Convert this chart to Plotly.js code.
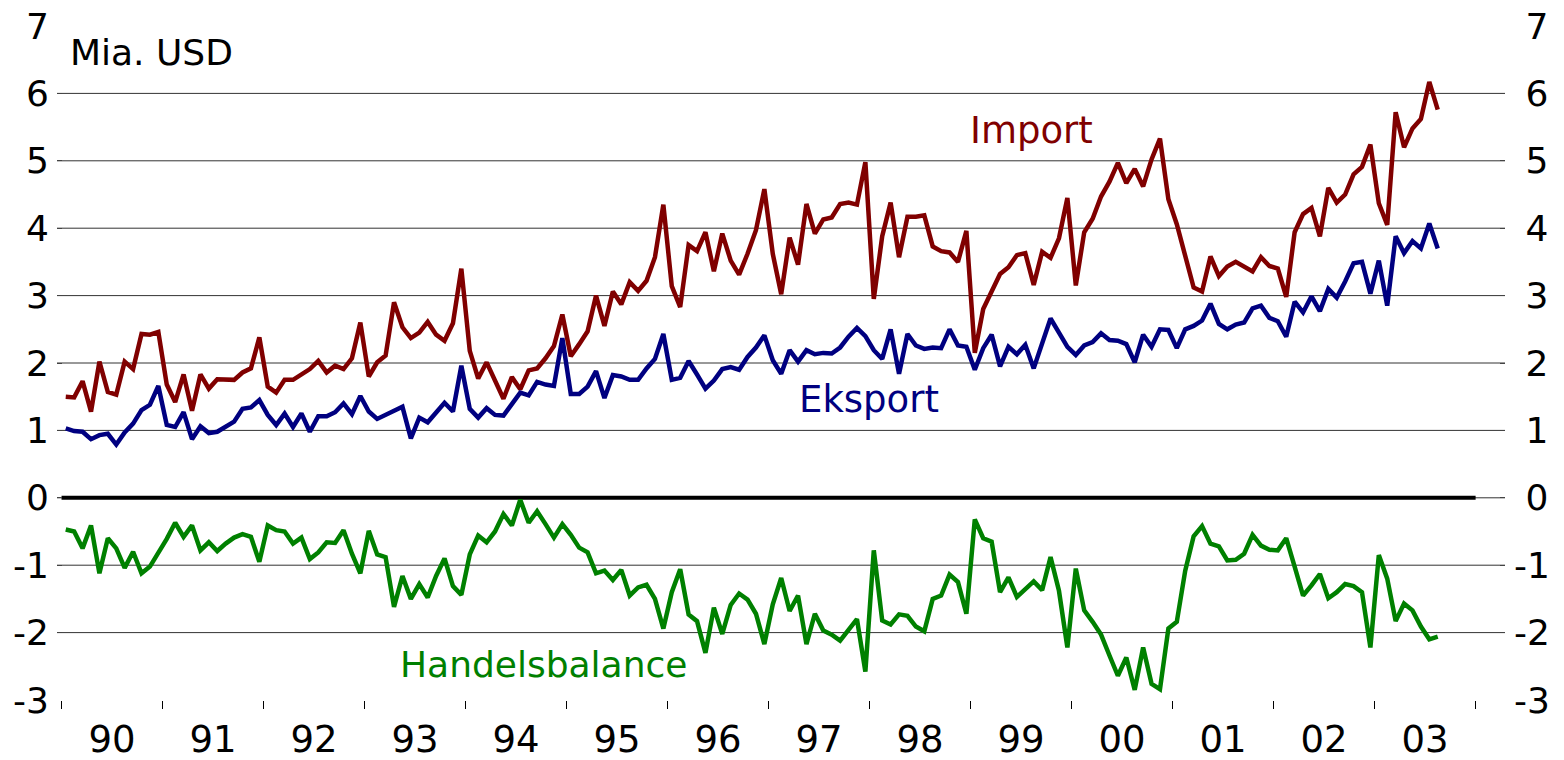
<!DOCTYPE html>
<html>
<head>
<meta charset="utf-8">
<script src="https://cdn.plot.ly/plotly-3.0.1.min.js"></script>
<style>
html,body{margin:0;padding:0;background:#fff;}
#chart{width:1564px;height:760px;}
</style>
</head>
<body>
<div id="chart"></div>
<script>
// Monthly data, January 1990 onwards (billion USD)
var startYear = 1990;
var importVals = [
1.50,1.49,1.73,1.28,2.02,1.57,1.53,2.02,1.91,2.43,2.42,2.46,
1.68,1.42,1.83,1.29,1.83,1.62,1.76,1.75,1.75,1.86,1.92,2.38,
1.65,1.56,1.75,1.75,1.83,1.91,2.03,1.86,1.96,1.91,2.07,2.60,
1.80,2.01,2.11,2.90,2.53,2.37,2.45,2.61,2.42,2.33,2.59,3.40,
2.18,1.77,2.01,1.74,1.47,1.79,1.61,1.89,1.92,2.07,2.25,2.72,
2.10,2.28,2.47,3.00,2.55,3.06,2.87,3.20,3.07,3.22,3.57,4.35,
3.14,2.83,3.75,3.66,3.94,3.36,3.92,3.52,3.31,3.62,3.97,4.58,
3.62,3.02,3.86,3.46,4.36,3.92,4.13,4.16,4.36,4.38,4.35,4.98,
2.95,3.88,4.38,3.57,4.17,4.17,4.19,3.73,3.66,3.64,3.50,3.96,
2.15,2.80,3.06,3.32,3.42,3.60,3.63,3.16,3.65,3.56,3.85,4.45,
3.15,3.94,4.14,4.47,4.69,4.97,4.67,4.88,4.62,5.02,5.33,4.43,
4.06,3.60,3.12,3.06,3.58,3.29,3.43,3.50,3.43,3.36,3.57,3.44,
3.40,2.98,3.94,4.21,4.30,3.88,4.60,4.38,4.50,4.80,4.91,5.24,
4.37,4.05,5.72,5.20,5.48,5.62,6.17,5.76
];
var exportVals = [
1.03,0.99,0.98,0.87,0.93,0.95,0.79,0.97,1.10,1.30,1.38,1.66,
1.08,1.05,1.27,0.87,1.06,0.96,0.98,1.05,1.13,1.32,1.34,1.45,
1.23,1.08,1.25,1.05,1.25,0.98,1.21,1.21,1.27,1.40,1.24,1.51,
1.28,1.17,1.23,1.28,1.35,0.88,1.19,1.12,1.27,1.41,1.28,1.96,
1.32,1.19,1.33,1.23,1.22,1.38,1.56,1.52,1.72,1.68,1.66,2.37,
1.54,1.54,1.65,1.88,1.48,1.82,1.80,1.75,1.75,1.92,2.06,2.43,
1.75,1.78,2.03,1.83,1.62,1.74,1.91,1.94,1.90,2.09,2.23,2.41,
2.04,1.84,2.19,2.02,2.19,2.13,2.15,2.14,2.23,2.39,2.52,2.40,
2.19,2.06,2.50,1.84,2.43,2.26,2.21,2.23,2.22,2.50,2.26,2.24,
1.90,2.22,2.42,1.95,2.24,2.13,2.27,1.92,2.28,2.66,2.45,2.24,
2.12,2.26,2.31,2.44,2.34,2.33,2.28,2.01,2.42,2.24,2.50,2.49,
2.22,2.50,2.55,2.63,2.88,2.58,2.50,2.57,2.60,2.81,2.85,2.67,
2.62,2.39,2.91,2.75,2.99,2.77,3.10,2.97,3.21,3.48,3.50,3.03,
3.52,2.85,3.88,3.63,3.81,3.70,4.07,3.70
];
var balanceVals = [
-0.47,-0.50,-0.75,-0.41,-1.12,-0.60,-0.75,-1.04,-0.80,-1.12,-1.02,-0.83,
-0.61,-0.37,-0.58,-0.41,-0.78,-0.66,-0.79,-0.68,-0.59,-0.54,-0.58,-0.95,
-0.41,-0.48,-0.50,-0.68,-0.59,-0.91,-0.81,-0.66,-0.67,-0.48,-0.83,-1.12,
-0.49,-0.84,-0.88,-1.62,-1.16,-1.50,-1.28,-1.48,-1.16,-0.90,-1.31,-1.44,
-0.84,-0.56,-0.66,-0.50,-0.24,-0.41,-0.03,-0.37,-0.20,-0.39,-0.59,-0.39,
-0.55,-0.74,-0.81,-1.12,-1.08,-1.22,-1.07,-1.45,-1.33,-1.29,-1.50,-1.94,
-1.40,-1.06,-1.73,-1.83,-2.30,-1.63,-2.02,-1.59,-1.42,-1.51,-1.72,-2.17,
-1.58,-1.19,-1.68,-1.45,-2.17,-1.72,-1.97,-2.03,-2.12,-1.96,-1.80,-2.58,
-0.78,-1.82,-1.88,-1.73,-1.75,-1.91,-1.98,-1.50,-1.45,-1.14,-1.25,-1.72,
-0.32,-0.60,-0.65,-1.40,-1.18,-1.47,-1.36,-1.24,-1.37,-0.88,-1.38,-2.22,
-1.05,-1.67,-1.84,-2.03,-2.34,-2.64,-2.37,-2.85,-2.22,-2.76,-2.84,-1.94,
-1.84,-1.08,-0.57,-0.42,-0.68,-0.72,-0.93,-0.92,-0.83,-0.55,-0.71,-0.77,
-0.78,-0.60,-1.02,-1.45,-1.30,-1.13,-1.49,-1.40,-1.28,-1.31,-1.40,-2.22,
-0.85,-1.20,-1.83,-1.57,-1.67,-1.91,-2.10,-2.06
];
var yearLabels = ['90','91','92','93','94','95','96','97','98','99','00','01','02','03'];
var yTicks = [-3,-2,-1,0,1,2,3,4,5,6,7];
var gridVals = [-2,-1,0,1,2,3,4,5,6];

// month positions (mid-month, in fractional years)
var months = importVals.map(function(_, i){ return startYear + (i + 0.5) / 12; });
var yearCenters = yearLabels.map(function(_, i){ return startYear + i + 0.5; });
var yearEdges = [];
for (var k = 0; k <= yearLabels.length; k++) yearEdges.push(startYear + k);

var FONT = 'DejaVu Sans, Verdana, sans-serif';
var cImp = '#800000', cExp = '#000080', cBal = '#008000';
var LW = 4.5;

var traces = [
  {x: months, y: importVals, type: 'scatter', mode: 'lines', line: {color: cImp, width: LW}, hoverinfo: 'skip'},
  {x: months, y: exportVals, type: 'scatter', mode: 'lines', line: {color: cExp, width: LW}, hoverinfo: 'skip'},
  {x: months, y: balanceVals, type: 'scatter', mode: 'lines', line: {color: cBal, width: LW}, hoverinfo: 'skip', yaxis: 'y2'}
];

var xLeft = 1989.955, xRight = 2004.291;
// right-hand labels: pad non-negative values so the column reads right-aligned
var rightText = yTicks.map(function(v){ return v < 0 ? String(v) : '\u2008' + v; });

var layout = {
  width: 1564, height: 760,
  margin: {l: 57, r: 59, t: 26, b: 60, pad: 0},
  paper_bgcolor: '#fff', plot_bgcolor: '#fff',
  showlegend: false,
  font: {family: FONT, color: '#000', size: 36},
  xaxis: {
    range: [xLeft, xRight], tickmode: 'array', tickvals: yearCenters, ticktext: yearLabels,
    ticks: '', showgrid: false, zeroline: false, showline: false,
    tickfont: {family: FONT, size: 37, color: '#000'}, ticklabelstandoff: 14,
    minor: {tickmode: 'array', tickvals: yearEdges, ticks: 'outside', ticklen: 8, tickwidth: 1, tickcolor: '#000', showgrid: false}
  },
  yaxis: {
    range: [-3, 7], tickmode: 'array', tickvals: yTicks, ticktext: yTicks.map(String),
    ticks: 'inside', ticklen: 5, tickwidth: 1, tickcolor: '#444',
    showgrid: false, zeroline: false, showline: false,
    tickfont: {family: FONT, size: 36, color: '#000'}, ticklabelstandoff: 7
  },
  yaxis2: {
    range: [-3, 7], overlaying: 'y', side: 'right', tickmode: 'array', tickvals: yTicks, ticktext: rightText,
    ticks: 'inside', ticklen: 5, tickwidth: 1, tickcolor: '#444',
    showgrid: false, zeroline: false, showline: false,
    tickfont: {family: FONT, size: 36, color: '#000'}, ticklabelstandoff: 8
  },
  shapes: gridVals.map(function(v){
    return {type: 'line', xref: 'paper', x0: 0, x1: 1, yref: 'y', y0: v, y1: v, line: {color: '#333', width: 1}, layer: 'below'};
  }).concat([
    {type: 'line', xref: 'x', x0: yearEdges[0], x1: yearEdges[yearEdges.length - 1], yref: 'y', y0: 0, y1: 0, line: {color: '#000', width: 4}, layer: 'below'}
  ]),
  annotations: [
    {text: 'Mia. USD', xref: 'x', yref: 'y', x: 1990.06, y: 6.6, xanchor: 'left', yanchor: 'middle', showarrow: false, font: {family: FONT, size: 36, color: '#000'}},
    {text: 'Import', xref: 'x', yref: 'y', x: 1998.975, y: 5.45, xanchor: 'left', yanchor: 'middle', showarrow: false, font: {family: FONT, size: 37, color: cImp}},
    {text: 'Eksport', xref: 'x', yref: 'y', x: 1997.282, y: 1.46, xanchor: 'left', yanchor: 'middle', showarrow: false, font: {family: FONT, size: 37, color: cExp}},
    {text: 'Handelsbalance', xref: 'x', yref: 'y', x: 1993.331, y: -2.48, xanchor: 'left', yanchor: 'middle', showarrow: false, font: {family: FONT, size: 36, color: cBal}}
  ]
};

Plotly.newPlot('chart', traces, layout, {staticPlot: true, displayModeBar: false});
</script>
</body>
</html>
